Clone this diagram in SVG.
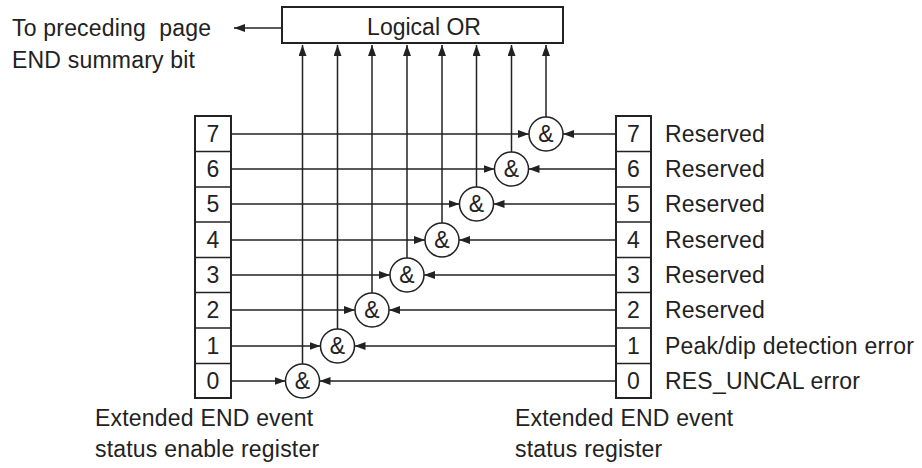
<svg xmlns="http://www.w3.org/2000/svg" width="922" height="468" viewBox="0 0 922 468">
<style>
text{font-family:"Liberation Sans",Arial,sans-serif;font-size:23px;fill:#222;letter-spacing:0.2px;white-space:pre}
.c{text-anchor:middle;letter-spacing:0}
.box{fill:#fff;stroke:#222;stroke-width:2}
.div{stroke:#222;stroke-width:1.5}
.ln{stroke:#222;stroke-width:1.5;fill:none;marker-end:url(#ah)}
.g{fill:#fff;stroke:#222;stroke-width:1.5}
</style>
<defs>
<marker id="ah" markerUnits="userSpaceOnUse" markerWidth="12" markerHeight="8" refX="11" refY="4" orient="auto"><path d="M0,0 L11,4 L0,8 z" fill="#222"/></marker>
</defs>
<g id="or">
<rect class="box" x="282" y="7" width="281" height="36"/>
<text class="c" x="424" y="35">Logical OR</text>
</g>
<g id="out-label">
<text x="12" y="36" xml:space="preserve">To preceding  page</text>
<text x="12" y="68">END summary bit</text>
</g>
<g id="enable-register">
<rect class="box" x="195" y="116" width="36" height="282"/>
<line class="div" x1="195" y1="151.5" x2="231" y2="151.5"/>
<line class="div" x1="195" y1="187" x2="231" y2="187"/>
<line class="div" x1="195" y1="222" x2="231" y2="222"/>
<line class="div" x1="195" y1="257.5" x2="231" y2="257.5"/>
<line class="div" x1="195" y1="292.5" x2="231" y2="292.5"/>
<line class="div" x1="195" y1="328" x2="231" y2="328"/>
<line class="div" x1="195" y1="363.5" x2="231" y2="363.5"/>
<text class="c" x="213" y="142">7</text>
<text class="c" x="213" y="177">6</text>
<text class="c" x="213" y="212">5</text>
<text class="c" x="213" y="248">4</text>
<text class="c" x="213" y="283">3</text>
<text class="c" x="213" y="318">2</text>
<text class="c" x="213" y="354">1</text>
<text class="c" x="213" y="389">0</text>
<text x="95" y="426">Extended END event</text>
<text x="95" y="457">status enable register</text>
</g>
<g id="status-register">
<rect class="box" x="616" y="116" width="35" height="282"/>
<line class="div" x1="616" y1="151.5" x2="651" y2="151.5"/>
<line class="div" x1="616" y1="187" x2="651" y2="187"/>
<line class="div" x1="616" y1="222" x2="651" y2="222"/>
<line class="div" x1="616" y1="257.5" x2="651" y2="257.5"/>
<line class="div" x1="616" y1="292.5" x2="651" y2="292.5"/>
<line class="div" x1="616" y1="328" x2="651" y2="328"/>
<line class="div" x1="616" y1="363.5" x2="651" y2="363.5"/>
<text class="c" x="633.5" y="142">7</text>
<text class="c" x="633.5" y="177">6</text>
<text class="c" x="633.5" y="212">5</text>
<text class="c" x="633.5" y="248">4</text>
<text class="c" x="633.5" y="283">3</text>
<text class="c" x="633.5" y="318">2</text>
<text class="c" x="633.5" y="354">1</text>
<text class="c" x="633.5" y="389">0</text>
<text x="665" y="142">Reserved</text>
<text x="665" y="177">Reserved</text>
<text x="665" y="212">Reserved</text>
<text x="665" y="248">Reserved</text>
<text x="665" y="283">Reserved</text>
<text x="665" y="318">Reserved</text>
<text x="665" y="354">Peak/dip detection error</text>
<text x="665" y="389">RES_UNCAL error</text>
<text x="515" y="426">Extended END event</text>
<text x="515" y="457">status register</text>
</g>
<g id="connectors">
<line class="ln" x1="282" y1="28" x2="234" y2="28"/>
<line class="ln" x1="231" y1="134" x2="529" y2="134"/>
<line class="ln" x1="231" y1="169" x2="494.5" y2="169"/>
<line class="ln" x1="231" y1="204" x2="459.5" y2="204"/>
<line class="ln" x1="231" y1="240" x2="425" y2="240"/>
<line class="ln" x1="231" y1="275" x2="390" y2="275"/>
<line class="ln" x1="231" y1="310" x2="355" y2="310"/>
<line class="ln" x1="231" y1="346" x2="320.5" y2="346"/>
<line class="ln" x1="231" y1="381" x2="285.5" y2="381"/>
<line class="ln" x1="616" y1="134" x2="563" y2="134"/>
<line class="ln" x1="616" y1="169" x2="528.5" y2="169"/>
<line class="ln" x1="616" y1="204" x2="493.5" y2="204"/>
<line class="ln" x1="616" y1="240" x2="459" y2="240"/>
<line class="ln" x1="616" y1="275" x2="424" y2="275"/>
<line class="ln" x1="616" y1="310" x2="389" y2="310"/>
<line class="ln" x1="616" y1="346" x2="354.5" y2="346"/>
<line class="ln" x1="616" y1="381" x2="319.5" y2="381"/>
<line class="ln" x1="546" y1="117" x2="546" y2="45"/>
<line class="ln" x1="511.5" y1="152" x2="511.5" y2="45"/>
<line class="ln" x1="476.5" y1="187" x2="476.5" y2="45"/>
<line class="ln" x1="442" y1="223" x2="442" y2="45"/>
<line class="ln" x1="407" y1="258" x2="407" y2="45"/>
<line class="ln" x1="372" y1="293" x2="372" y2="45"/>
<line class="ln" x1="337.5" y1="329" x2="337.5" y2="45"/>
<line class="ln" x1="302.5" y1="364" x2="302.5" y2="45"/>
</g>
<g id="gate7"><circle class="g" cx="546" cy="134" r="17"/><text class="c" x="546" y="142">&amp;</text></g>
<g id="gate6"><circle class="g" cx="511.5" cy="169" r="17"/><text class="c" x="511.5" y="177">&amp;</text></g>
<g id="gate5"><circle class="g" cx="476.5" cy="204" r="17"/><text class="c" x="476.5" y="212">&amp;</text></g>
<g id="gate4"><circle class="g" cx="442" cy="240" r="17"/><text class="c" x="442" y="248">&amp;</text></g>
<g id="gate3"><circle class="g" cx="407" cy="275" r="17"/><text class="c" x="407" y="283">&amp;</text></g>
<g id="gate2"><circle class="g" cx="372" cy="310" r="17"/><text class="c" x="372" y="318">&amp;</text></g>
<g id="gate1"><circle class="g" cx="337.5" cy="346" r="17"/><text class="c" x="337.5" y="354">&amp;</text></g>
<g id="gate0"><circle class="g" cx="302.5" cy="381" r="17"/><text class="c" x="302.5" y="389">&amp;</text></g>
</svg>
